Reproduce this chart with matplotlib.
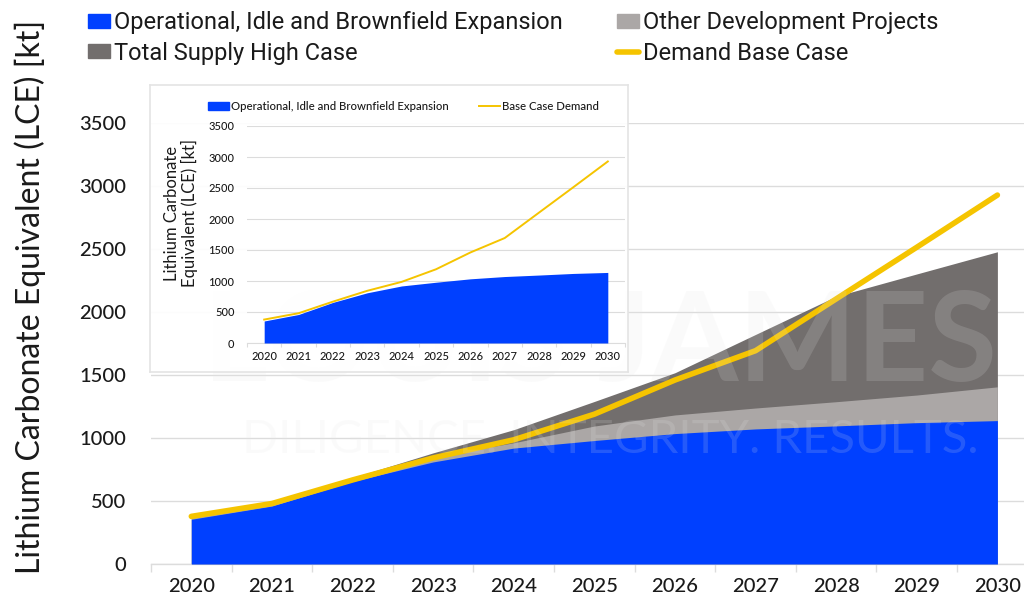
import matplotlib
matplotlib.use('Agg')
import matplotlib.pyplot as plt
import matplotlib.patches as mpatches
from matplotlib.lines import Line2D
from matplotlib import font_manager
from matplotlib.font_manager import FontProperties
import os
import numpy as np

# ── Data (kt LCE) ─────────────────────────────────────────────────────────────
YEARS = ['2020', '2021', '2022', '2023', '2024', '2025', '2026', '2027', '2028', '2029', '2030']
OPERATIONAL = [355, 460, 655, 810, 920, 980, 1035, 1072, 1096, 1122, 1138]
OTHER_DEV_TOP = [368, 478, 670, 850, 962, 1095, 1183, 1238, 1288, 1341, 1406]
HIGH_CASE_TOP = [375, 500, 685, 882, 1066, 1290, 1518, 1822, 2125, 2302, 2478]
DEMAND = [378, 480, 667, 842, 986, 1189, 1460, 1693, 2104, 2514, 2928]
Y_TICKS = [0, 500, 1000, 1500, 2000, 2500, 3000, 3500]

# ── Colors ────────────────────────────────────────────────────────────────────
C_BLUE = '#0040FF'
C_LIGHT = '#ABA7A6'
C_DARK = '#726E6D'
C_YELLOW = '#F5C400'
C_GRID = '#DCDCDC'
C_TEXT = '#1A1A1A'


def font_file(*stems):
    # static font files only: variable fonts render at their default (thin) instance
    files = {os.path.basename(f.fname): f.fname for f in font_manager.fontManager.ttflist}
    for stem in stems:
        for ext in ('.ttf', '.otf'):
            if stem + ext in files:
                return files[stem + ext]
    return None


def fp(size, *stems, fallback='DejaVu Sans'):
    path = font_file(*stems)
    if path:
        return FontProperties(fname=path, size=size)
    return FontProperties(family=fallback, size=size)


MAIN_STEMS = ('Montserrat-Medium', 'Montserrat-Regular', 'Lato-Medium', 'Lato-Regular')
LEG_STEMS = ('Roboto-Regular', 'Lato-Regular')


def style_ticks(axis, size):
    for lab in axis.get_xticklabels() + axis.get_yticklabels():
        lab.set_fontproperties(fp(size, *MAIN_STEMS))
        lab.set_color(C_TEXT)


x = np.arange(len(YEARS))
op = np.array(OPERATIONAL)
other = np.array(OTHER_DEV_TOP)
high = np.array(HIGH_CASE_TOP)

fig = plt.figure(figsize=(10.24, 6), dpi=100, facecolor='white')

# ── Main chart ────────────────────────────────────────────────────────────────
ax = fig.add_axes([151/1024, 1 - 564/600, 873/1024, (564 - 123)/600])
ax.fill_between(x, high, 0, color=C_DARK, lw=0, zorder=2)
ax.fill_between(x, other, 0, color=C_LIGHT, lw=0, zorder=3)
ax.fill_between(x, op, 0, color=C_BLUE, lw=0, zorder=4)
ax.plot(x, DEMAND, color=C_YELLOW, lw=4.0, solid_capstyle='round', zorder=5)

ax.set_xlim(-0.5, 10.33)
ax.set_ylim(0, 3500)
ax.set_yticks(Y_TICKS)
ax.set_yticklabels([str(v) for v in Y_TICKS])
ax.set_xticks(x)
ax.set_xticklabels(YEARS)
style_ticks(ax, 14.5)
ax.set_xticks(np.arange(-0.5, 10.5, 1), minor=True)
ax.tick_params(axis='x', which='major', length=0, pad=10)
ax.tick_params(axis='x', which='minor', length=6, color=C_GRID, width=1)
ax.tick_params(axis='y', length=0, pad=18)
ax.grid(axis='y', color=C_GRID, lw=1, zorder=0)
ax.set_axisbelow(True)
for s in ('top', 'right', 'left'):
    ax.spines[s].set_visible(False)
ax.spines['bottom'].set_color(C_GRID)
ax.spines['bottom'].set_linewidth(1)

fig.text(30/1024, 1 - 297/600, 'Lithium Carbonate Equivalent (LCE) [kt]',
         rotation=90, ha='center', va='center', color=C_TEXT,
         fontproperties=fp(23, 'Montserrat-Regular', 'Lato-Regular'))

# faint brand watermark, sitting under the inset panel
fig.text(600/1024, 1 - 345/600, 'LOUIS JAMES', ha='center', va='center',
         fontproperties=fp(90, 'Montserrat-Bold', 'Lato-Bold'),
         color='#E6E6E6', alpha=0.16, zorder=5)
fig.text(610/1024, 1 - 440/600, 'DILIGENCE. INTEGRITY. RESULTS.', ha='center', va='center',
         fontproperties=fp(34, 'Montserrat-Regular', 'Lato-Regular'),
         color='#E6E6E6', alpha=0.16, zorder=5)

# ── Main legend ───────────────────────────────────────────────────────────────
handles = [
    mpatches.Patch(color=C_BLUE),
    mpatches.Patch(color=C_DARK),
    mpatches.Patch(color=C_LIGHT),
    Line2D([0], [0], color=C_YELLOW, lw=4, solid_capstyle='round'),
]
labels = ['Operational, Idle and Brownfield Expansion', 'Total Supply High Case',
          'Other Development Projects', 'Demand Base Case']
fig.legend(handles, labels, ncol=2, loc='upper left', bbox_to_anchor=(88/1024, 1 - 11/600),
           frameon=False, prop=fp(17, *LEG_STEMS), handlelength=0.95,
           handleheight=0.55, handletextpad=0.15, columnspacing=2.3, labelspacing=0.32,
           borderpad=0, borderaxespad=0, labelcolor=C_TEXT)

# ── Inset chart ───────────────────────────────────────────────────────────────
box = fig.add_axes([150/1024, 1 - 372/600, 478/1024, 287/600], zorder=10)
box.set_xticks([])
box.set_yticks([])
box.set_facecolor((1, 1, 1, 0.92))
for s in box.spines.values():
    s.set_color('#E4E4E4')
    s.set_linewidth(1.2)

ins = fig.add_axes([247/1024, 1 - 343/600, 378/1024, 217/600], zorder=11)
ins.patch.set_alpha(0)
ins.fill_between(x, op, 0, color=C_BLUE, lw=0, zorder=3)
ins.plot(x, DEMAND, color=C_YELLOW, lw=1.4, zorder=4)
ins.set_xlim(-0.5, 10.5)
ins.set_ylim(0, 3500)
ins.set_yticks(Y_TICKS)
ins.set_yticklabels([str(v) for v in Y_TICKS])
ins.set_xticks(x)
ins.set_xticklabels(YEARS)
style_ticks(ins, 8)
ins.set_xticks(np.arange(-0.5, 11, 1), minor=True)
ins.tick_params(axis='x', which='major', length=0, pad=6)
ins.tick_params(axis='x', which='minor', length=3, color=C_GRID, width=0.8)
ins.tick_params(axis='y', length=0, pad=9)
ins.grid(axis='y', color=C_GRID, lw=0.8, zorder=0)
ins.set_axisbelow(True)
for s in ('top', 'right', 'left'):
    ins.spines[s].set_visible(False)
ins.spines['bottom'].set_color(C_GRID)
ins.spines['bottom'].set_linewidth(0.8)

fig.text(181/1024, 1 - 213/600, 'Lithium Carbonate\nEquivalent (LCE) [kt]', rotation=90,
         ha='center', va='center', color=C_TEXT, linespacing=1.0, zorder=12,
         fontproperties=fp(12, 'Montserrat-Regular', 'Lato-Regular'))

ins_handles = [mpatches.Patch(color=C_BLUE), Line2D([0], [0], color=C_YELLOW, lw=1.4)]
ins_labels = ['Operational, Idle and Brownfield Expansion', 'Base Case Demand']
leg = fig.legend(ins_handles, ins_labels, ncol=2, loc='center left',
                 bbox_to_anchor=(208/1024, 1 - 106/600), frameon=False,
                 prop=fp(8.2, *MAIN_STEMS), handlelength=1.8, handleheight=0.7,
                 handletextpad=0.2, columnspacing=2.7, borderpad=0, borderaxespad=0,
                 labelcolor=C_TEXT)
leg.set_zorder(12)

fig.savefig('out.png', dpi=100, facecolor='white')
